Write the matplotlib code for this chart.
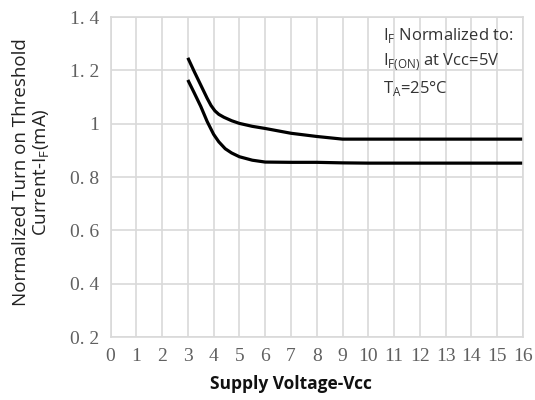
import matplotlib
matplotlib.use("Agg")
import matplotlib.pyplot as plt

# data
vcc_upper = [3.0, 3.25, 3.5, 3.75, 3.9, 4.05, 4.2, 4.4, 4.7, 5.0, 5.5, 6.0, 6.5, 7.0, 8.0, 9.0, 10.0, 12.0, 14.0, 16.0]
if_upper = [1.247, 1.195, 1.145, 1.095, 1.068, 1.048, 1.035, 1.024, 1.011, 1.001, 0.99, 0.982, 0.973, 0.964, 0.952, 0.942, 0.942, 0.942, 0.942, 0.942]
vcc_lower = [3.0, 3.25, 3.5, 3.75, 4.0, 4.2, 4.45, 4.7, 5.0, 5.5, 6.0, 7.0, 8.0, 9.0, 10.0, 12.0, 14.0, 16.0]
if_lower = [1.164, 1.115, 1.065, 1.008, 0.96, 0.932, 0.906, 0.89, 0.876, 0.863, 0.856, 0.855, 0.855, 0.853, 0.852, 0.852, 0.852, 0.852]
x_ticks = list(range(0, 17))
y_ticks = [0.2, 0.4, 0.6, 0.8, 1.0, 1.2, 1.4]
y_tick_labels = ["0. 2", "0. 4", "0. 6", "0. 8", "1", "1. 2", "1. 4"]

plt.rcParams["mathtext.fontset"] = "custom"
plt.rcParams["mathtext.rm"] = "Open Sans"

fig = plt.figure(figsize=(5.35, 4.0), dpi=100)
ax = fig.add_axes([110.5 / 535, 1 - 337 / 400, 412.5 / 535, 320 / 400])

grid_c = "#d9d9d9"
ax.set_xlim(0, 16)
ax.set_ylim(0.2, 1.4)
ax.set_xticks(x_ticks)
ax.set_yticks(y_ticks)
ax.set_yticklabels(y_tick_labels)
ax.grid(True, color=grid_c, linewidth=1.2)
ax.set_axisbelow(True)
for s in ax.spines.values():
    s.set_color(grid_c)
    s.set_linewidth(1.2)
ax.tick_params(length=0, labelsize=14, colors="#606060", pad=8)
for lbl in ax.get_xticklabels() + ax.get_yticklabels():
    lbl.set_family("Liberation Serif")

ax.plot(vcc_upper, if_upper, color="black", linewidth=2.3, solid_capstyle="butt")
ax.plot(vcc_lower, if_lower, color="black", linewidth=2.3, solid_capstyle="butt")

ax.set_xlabel("Supply Voltage-Vcc", fontsize=12.5, fontweight="bold",
              family="Open Sans", color="#111111")
ax.xaxis.set_label_coords(0.437, -0.118)
ax.set_ylabel("Normalized Turn on Threshold\nCurrent-I$_\\mathregular{F}$(mA)",
              fontsize=13.5, family="Open Sans", color="#222222",
              linespacing=1.1)
ax.yaxis.set_label_coords(-0.142, 0.515)

note_kw = dict(transform=ax.transAxes, fontsize=12, family="Open Sans",
               color="#333333", ha="left", va="center")
ax.text(0.66, 0.942, "I$_\\mathregular{F}$ Normalized to:", **note_kw)
ax.text(0.66, 0.86, "I$_\\mathregular{F(ON)}$ at Vcc=5V", **note_kw)
ax.text(0.66, 0.778, "T$_\\mathregular{A}$=25\u00b0C", **note_kw)

fig.savefig("out.png", dpi=100)
